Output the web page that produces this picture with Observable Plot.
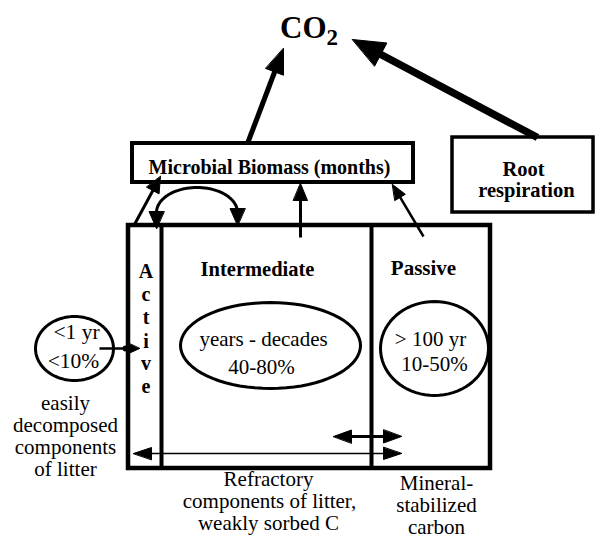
<!DOCTYPE html>
<html><head><meta charset="utf-8">
<script src="https://cdn.jsdelivr.net/npm/d3@7"></script>
<script src="https://cdn.jsdelivr.net/npm/@observablehq/plot@0.6"></script>
<style>html,body{margin:0;padding:0;background:#fff;overflow:hidden}</style>
</head><body><div id="chart"></div>
<script>
// Diagram coordinate space (0..597 across, 0..538 down)
const W = 597, H = 538;

// Compartment boxes
const boxes = [
  {name: "soil pools", x1: 128, x2: 490, y1: 225, y2: 468, w: 4.5},
  {name: "Microbial Biomass", x1: 132, x2: 413, y1: 143, y2: 182, w: 4},
  {name: "Root respiration", x1: 452, x2: 593, y1: 137, y2: 212, w: 3.5}
];
const dividers = [
  {name: "Active|Intermediate", x1: 161, y1: 225, x2: 161, y2: 468, w: 4},
  {name: "Intermediate|Passive", x1: 371, y1: 225, x2: 371, y2: 468, w: 4}
];
// Turnover ovals
const pools = [
  {name: "litter", cx: 74, cy: 348, rx: 39, ry: 32},
  {name: "intermediate", cx: 270, cy: 345, rx: 90, ry: 43},
  {name: "passive", cx: 434, cy: 348, rx: 54, ry: 47}
];
// Fluxes: tail (x1,y1) -> tip (x2,y2)
const arrows = [
  {name: "microbes to CO2", x1: 247, y1: 143, x2: 283, y2: 48, w: 5, len: 25, half: 9.5, both: false},
  {name: "roots to CO2", x1: 537, y1: 137, x2: 352, y2: 39, w: 7.5, len: 32, half: 13, both: false},
  {name: "intermediate to microbes", x1: 300, y1: 237, x2: 300, y2: 183, w: 3, len: 17, half: 7, both: false},
  {name: "active to microbes", x1: 134, y1: 224, x2: 160, y2: 176, w: 3, len: 16, half: 7, both: false},
  {name: "passive to microbes", x1: 423, y1: 236, x2: 392, y2: 184, w: 2.5, len: 15, half: 6, both: false},
  {name: "litter to active", x1: 99, y1: 348, x2: 139, y2: 348, w: 2.5, len: 13, half: 6, both: false},
  {name: "refractory", x1: 401, y1: 453, x2: 133, y2: 453, w: 1.5, len: 18, half: 6, both: true},
  {name: "sorption", x1: 333, y1: 436, x2: 401, y2: 436, w: 3, len: 18, half: 6.5, both: true},
  {name: "arc left head", x1: 156, y1: 209, x2: 156, y2: 228, w: 0, len: 17, half: 7.5, both: false},
  {name: "arc right head", x1: 237, y1: 207, x2: 237, y2: 225, w: 0, len: 17, half: 7.5, both: false}
];
// Junction blob where the litter flux crosses the box wall
const junctions = [{x: 125, y: 348, r: 4}];
// Microbial recycling arc (half oval)
const arcs = [{cx: 196.5, cy: 212, rx: 40.5, ry: 25}];

// Labels: baseline positions
const labels = [
  {text: "CO", x: 326, y: 37, size: 31, bold: true, anchor: "end"},
  {text: "2", x: 326, y: 44, size: 23, bold: true, anchor: "start"},
  {text: "Microbial Biomass (months)", x: 269, y: 173, size: 20, bold: true, anchor: "middle"},
  {text: "Root", x: 523, y: 175, size: 20.5, bold: true, anchor: "middle"},
  {text: "respiration", x: 526, y: 196, size: 20.5, bold: true, anchor: "middle"},
  {text: "Intermediate", x: 257, y: 275, size: 20.5, bold: true, anchor: "middle"},
  {text: "Passive", x: 423, y: 274, size: 21, bold: true, anchor: "middle"},
  {text: "A", x: 145.5, y: 277, size: 20, bold: true, anchor: "middle"},
  {text: "c", x: 145.5, y: 300, size: 20, bold: true, anchor: "middle"},
  {text: "t", x: 145.5, y: 323, size: 20, bold: true, anchor: "middle"},
  {text: "i", x: 145.5, y: 347, size: 20, bold: true, anchor: "middle"},
  {text: "v", x: 145.5, y: 369, size: 20, bold: true, anchor: "middle"},
  {text: "e", x: 145.5, y: 392, size: 20, bold: true, anchor: "middle"},
  {text: "years - decades", x: 263, y: 345, size: 21, bold: false, anchor: "middle"},
  {text: "40-80%", x: 261, y: 373, size: 21, bold: false, anchor: "middle"},
  {text: "> 100 yr", x: 430, y: 345, size: 21, bold: false, anchor: "middle"},
  {text: "10-50%", x: 434, y: 370, size: 21, bold: false, anchor: "middle"},
  {text: "<1 yr", x: 76, y: 338, size: 21.5, bold: false, anchor: "middle"},
  {text: "<10%", x: 73, y: 367, size: 21.5, bold: false, anchor: "middle"},
  {text: "easily", x: 65, y: 409, size: 21, bold: false, anchor: "middle"},
  {text: "decomposed", x: 65, y: 431, size: 21, bold: false, anchor: "middle"},
  {text: "components", x: 65, y: 453, size: 21, bold: false, anchor: "middle"},
  {text: "of litter", x: 65, y: 475, size: 21, bold: false, anchor: "middle"},
  {text: "Refractory", x: 268, y: 485, size: 21, bold: false, anchor: "middle"},
  {text: "components of litter,", x: 269, y: 507, size: 21, bold: false, anchor: "middle"},
  {text: "weakly sorbed C", x: 268, y: 529, size: 21, bold: false, anchor: "middle"},
  {text: "Mineral-", x: 436, y: 489, size: 21, bold: false, anchor: "middle"},
  {text: "stabilized", x: 436, y: 511, size: 21, bold: false, anchor: "middle"},
  {text: "carbon", x: 436, y: 533, size: 21, bold: false, anchor: "middle"}
];

// ---- geometry derived from the data above ----
const ovalPts = pools.flatMap(p => d3.range(73).map(i => {
  const t = (i / 72) * 2 * Math.PI;
  return {id: p.name, x: p.cx + p.rx * Math.cos(t), y: p.cy + p.ry * Math.sin(t)};
}));
const arcPts = arcs.flatMap((a, k) => d3.range(49).map(i => {
  const t = Math.PI * (i / 48);
  return {id: k, x: a.cx - a.rx * Math.cos(t), y: a.cy - a.ry * Math.sin(t)};
}));
function headPts(id, sx, sy, tx, ty, len, half) {
  const dx = tx - sx, dy = ty - sy, L = Math.hypot(dx, dy), ux = dx / L, uy = dy / L;
  const bx = tx - ux * len, by = ty - uy * len, nx = -uy, ny = ux;
  return [{id, x: tx, y: ty}, {id, x: bx + nx * half, y: by + ny * half}, {id, x: bx - nx * half, y: by - ny * half}];
}
const heads = [], shafts = [];
arrows.forEach((a, i) => {
  const dx = a.x2 - a.x1, dy = a.y2 - a.y1, L = Math.hypot(dx, dy), ux = dx / L, uy = dy / L;
  heads.push(...headPts("h" + i, a.x1, a.y1, a.x2, a.y2, a.len, a.half));
  let sx = a.x1, sy = a.y1;
  if (a.both) {
    heads.push(...headPts("t" + i, a.x2, a.y2, a.x1, a.y1, a.len, a.half));
    sx = a.x1 + ux * (a.len - 2); sy = a.y1 + uy * (a.len - 2);
  }
  if (a.w > 0) shafts.push({x1: sx, y1: sy, x2: a.x2 - ux * (a.len - 2), y2: a.y2 - uy * (a.len - 2), w: a.w});
});

const serif = "'Liberation Serif', 'Times New Roman', Times, serif";
function textMark(bold, anchor) {
  return Plot.text(labels, {
    filter: d => d.bold === bold && d.anchor === anchor,
    x: "x", y: "y", text: "text", fontSize: d => d.size,
    fontWeight: bold ? "bold" : "normal", fontFamily: serif,
    textAnchor: anchor, lineAnchor: "bottom", fill: "black"
  });
}

const chart = Plot.plot({
  width: W, height: H, margin: 0,
  x: {domain: [0, W], range: [0, W], axis: null},
  y: {domain: [0, H], range: [0, H], axis: null},
  style: {background: "#fff"},
  marks: [
    Plot.rect(boxes, {x1: "x1", x2: "x2", y1: "y1", y2: "y2", fill: "white", stroke: "black", strokeWidth: "w"}),
    Plot.link(dividers, {x1: "x1", y1: "y1", x2: "x2", y2: "y2", stroke: "black", strokeWidth: "w"}),
    Plot.line(ovalPts, {x: "x", y: "y", z: "id", curve: "linear-closed", stroke: "black", strokeWidth: 3}),
    Plot.line(arcPts, {x: "x", y: "y", z: "id", stroke: "black", strokeWidth: 3, strokeLinecap: "butt"}),
    Plot.link(shafts, {x1: "x1", y1: "y1", x2: "x2", y2: "y2", stroke: "black", strokeWidth: "w"}),
    Plot.line(heads, {x: "x", y: "y", z: "id", curve: "linear-closed", fill: "black", stroke: "black", strokeWidth: 1, strokeLinejoin: "miter"}),
    Plot.dot(junctions, {x: "x", y: "y", r: "r", fill: "black"}),
    textMark(true, "middle"), textMark(true, "end"), textMark(true, "start"),
    textMark(false, "middle")
  ]
});
document.getElementById("chart").appendChild(chart);
</script>
</body></html>
